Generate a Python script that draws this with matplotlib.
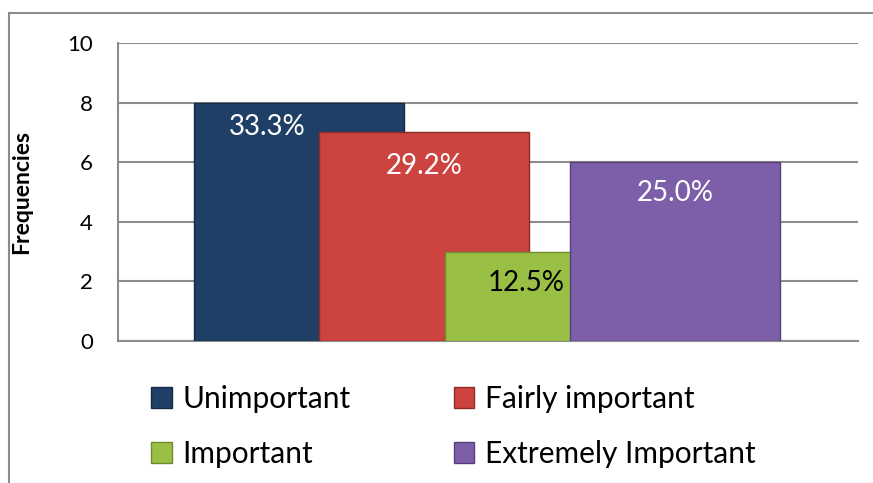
from matplotlib import pyplot as plt
from matplotlib.patches import Rectangle
import numpy as np

categories = ["Unimportant", "Fairly important", "Important", "Extremely Important"]
counts = [8, 7, 3, 6]
pct_labels = ["33.3%", "29.2%", "12.5%", "25.0%"]
yticks = [0, 2, 4, 6, 8, 10]

colors = ["#203f66", "#cc4340", "#9abf45", "#7d5ea8"]
edges = ["#152a45", "#8e2a28", "#6f8c2c", "#57407a"]
label_colors = ["white", "white", "black", "white"]
# label placement relative to bar centre/top (data units)
label_dx = [-0.25, 0.0, -0.19, 0.0]
label_dy = [-0.82, -1.13, -1.07, -1.02]

plt.rcParams['font.family'] = ['Lato', 'DejaVu Sans']

fig = plt.figure(figsize=(8.73, 4.83), dpi=100)
ax = fig.add_axes([118/873, 1 - 341/483, 740/873, 298/483])

# outer chart frame (cut by the image edge)
fig.add_artist(Rectangle((9/873, -0.1), 1.2, 1 - 13/483 + 0.1, transform=fig.transFigure,
                         fill=False, edgecolor="#8c8c8c", linewidth=1.5))

x = np.arange(len(counts))
width = 1.676
bars = []
for i in range(len(counts)):
    b = ax.bar(x[i], counts[i], width=width, color=colors[i], edgecolor=edges[i],
               linewidth=1.0, label=categories[i], zorder=3 + i)
    bars.append(b)
    ax.text(x[i] + label_dx[i], counts[i] + label_dy[i], pct_labels[i],
            ha="center", va="center", fontsize=20, color=label_colors[i], zorder=10)

ax.set_xlim(-1.444, 4.46)
ax.set_ylim(0, 10)
ax.set_yticks(yticks)
ax.set_xticks([])
ax.tick_params(axis="y", length=0, pad=18, labelsize=16)
ax.yaxis.grid(True, color="#8c8c8c", linewidth=1.5)
ax.set_axisbelow(True)
for s in ["top", "right"]:
    ax.spines[s].set_visible(False)
for s in ["left", "bottom"]:
    ax.spines[s].set_color("#8c8c8c")
    ax.spines[s].set_linewidth(1.5)

ax.set_ylabel("Frequencies", fontsize=16.5, fontweight="bold")
ax.yaxis.set_label_coords(-0.116, 0.5)

# legend fills row by row in the reference
order = [0, 2, 1, 3]
ax.legend([bars[k] for k in order], [categories[k] for k in order],
          ncol=2, loc="upper left", bbox_to_anchor=(151/873, 1 - 385/483),
          bbox_transform=fig.transFigure, frameon=False, fontsize=21.5,
          handlelength=0.7, handleheight=0.7, handletextpad=0.35,
          columnspacing=3.45, labelspacing=0.9, borderpad=0, borderaxespad=0)

fig.savefig("out.png", dpi=100)
